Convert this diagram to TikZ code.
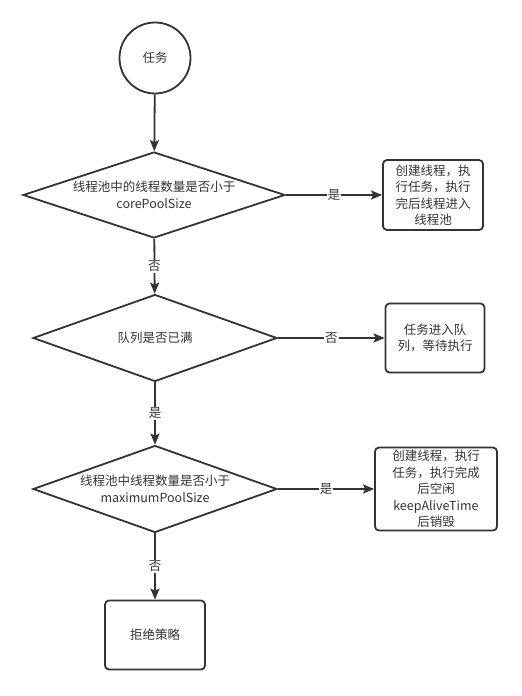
\documentclass[tikz,border=0pt]{standalone}
\usepackage{fontspec}
\setmainfont{Noto Sans CJK SC}
\usetikzlibrary{arrows.meta,shapes.geometric}
\definecolor{ink}{HTML}{333333}
\tikzset{>={Stealth[length=11pt,width=9pt,inset=2pt]}}
\tikzset{
  every node/.style={text=ink,font=\fontsize{12.5}{16.5}\selectfont},
  line/.style={draw=ink,line width=1.8pt},
  start/.style={circle,line,minimum size=71pt,inner sep=0pt},
  decision/.style={diamond,line,shape aspect=3,inner sep=0pt,align=center},
  process/.style={rectangle,rounded corners=4pt,line,align=center,inner sep=0pt},
  flow/.style={line,->},
  tag/.style={fill=white,inner sep=1pt}
}

\begin{document}
\begin{tikzpicture}[x=1pt,y=-1pt]
\useasboundingbox (0,0) rectangle (522,696);
\node[start] (task) at (155,58) {任务};
\node[decision,minimum width=262pt,minimum height=86pt] (core) at (154,195)
  {线程池中的线程数量是否小于\\corePoolSize};
\node[process,minimum width=100pt,minimum height=70pt] (create) at (433,195)
  {创建线程，执\\行任务，执行\\完后线程进入\\线程池};
\node[decision,minimum width=244pt,minimum height=87pt] (full) at (155,338)
  {队列是否已满};
\node[process,minimum width=99pt,minimum height=69pt] (queue) at (435,338)
  {任务进入队\\列，等待执行};
\node[decision,shape aspect=2.7,minimum width=244pt,minimum height=87pt] (max) at (155,489)
  {线程池中线程数量是否小于\\maximumPoolSize};
\node[process,minimum width=122pt,minimum height=83pt] (idle) at (436,489)
  {创建线程，执行\\任务，执行完成\\后空闲\\keepAliveTime\\后销毁};
\node[process,minimum width=100pt,minimum height=69pt] (reject) at (155,635)
  {拒绝策略};
% connectors
\draw[flow] (task) -- (core);
\draw[flow] (core) -- node[tag] {是} (create);
\draw[flow] (core) -- node[tag] {否} (full);
\draw[flow] (full) -- node[tag] {否} (queue);
\draw[flow] (full) -- node[tag] {是} (max);
\draw[flow] (max) -- node[tag] {是} (idle);
\draw[flow] (max) -- node[tag] {否} (reject);
\end{tikzpicture}
\end{document}
